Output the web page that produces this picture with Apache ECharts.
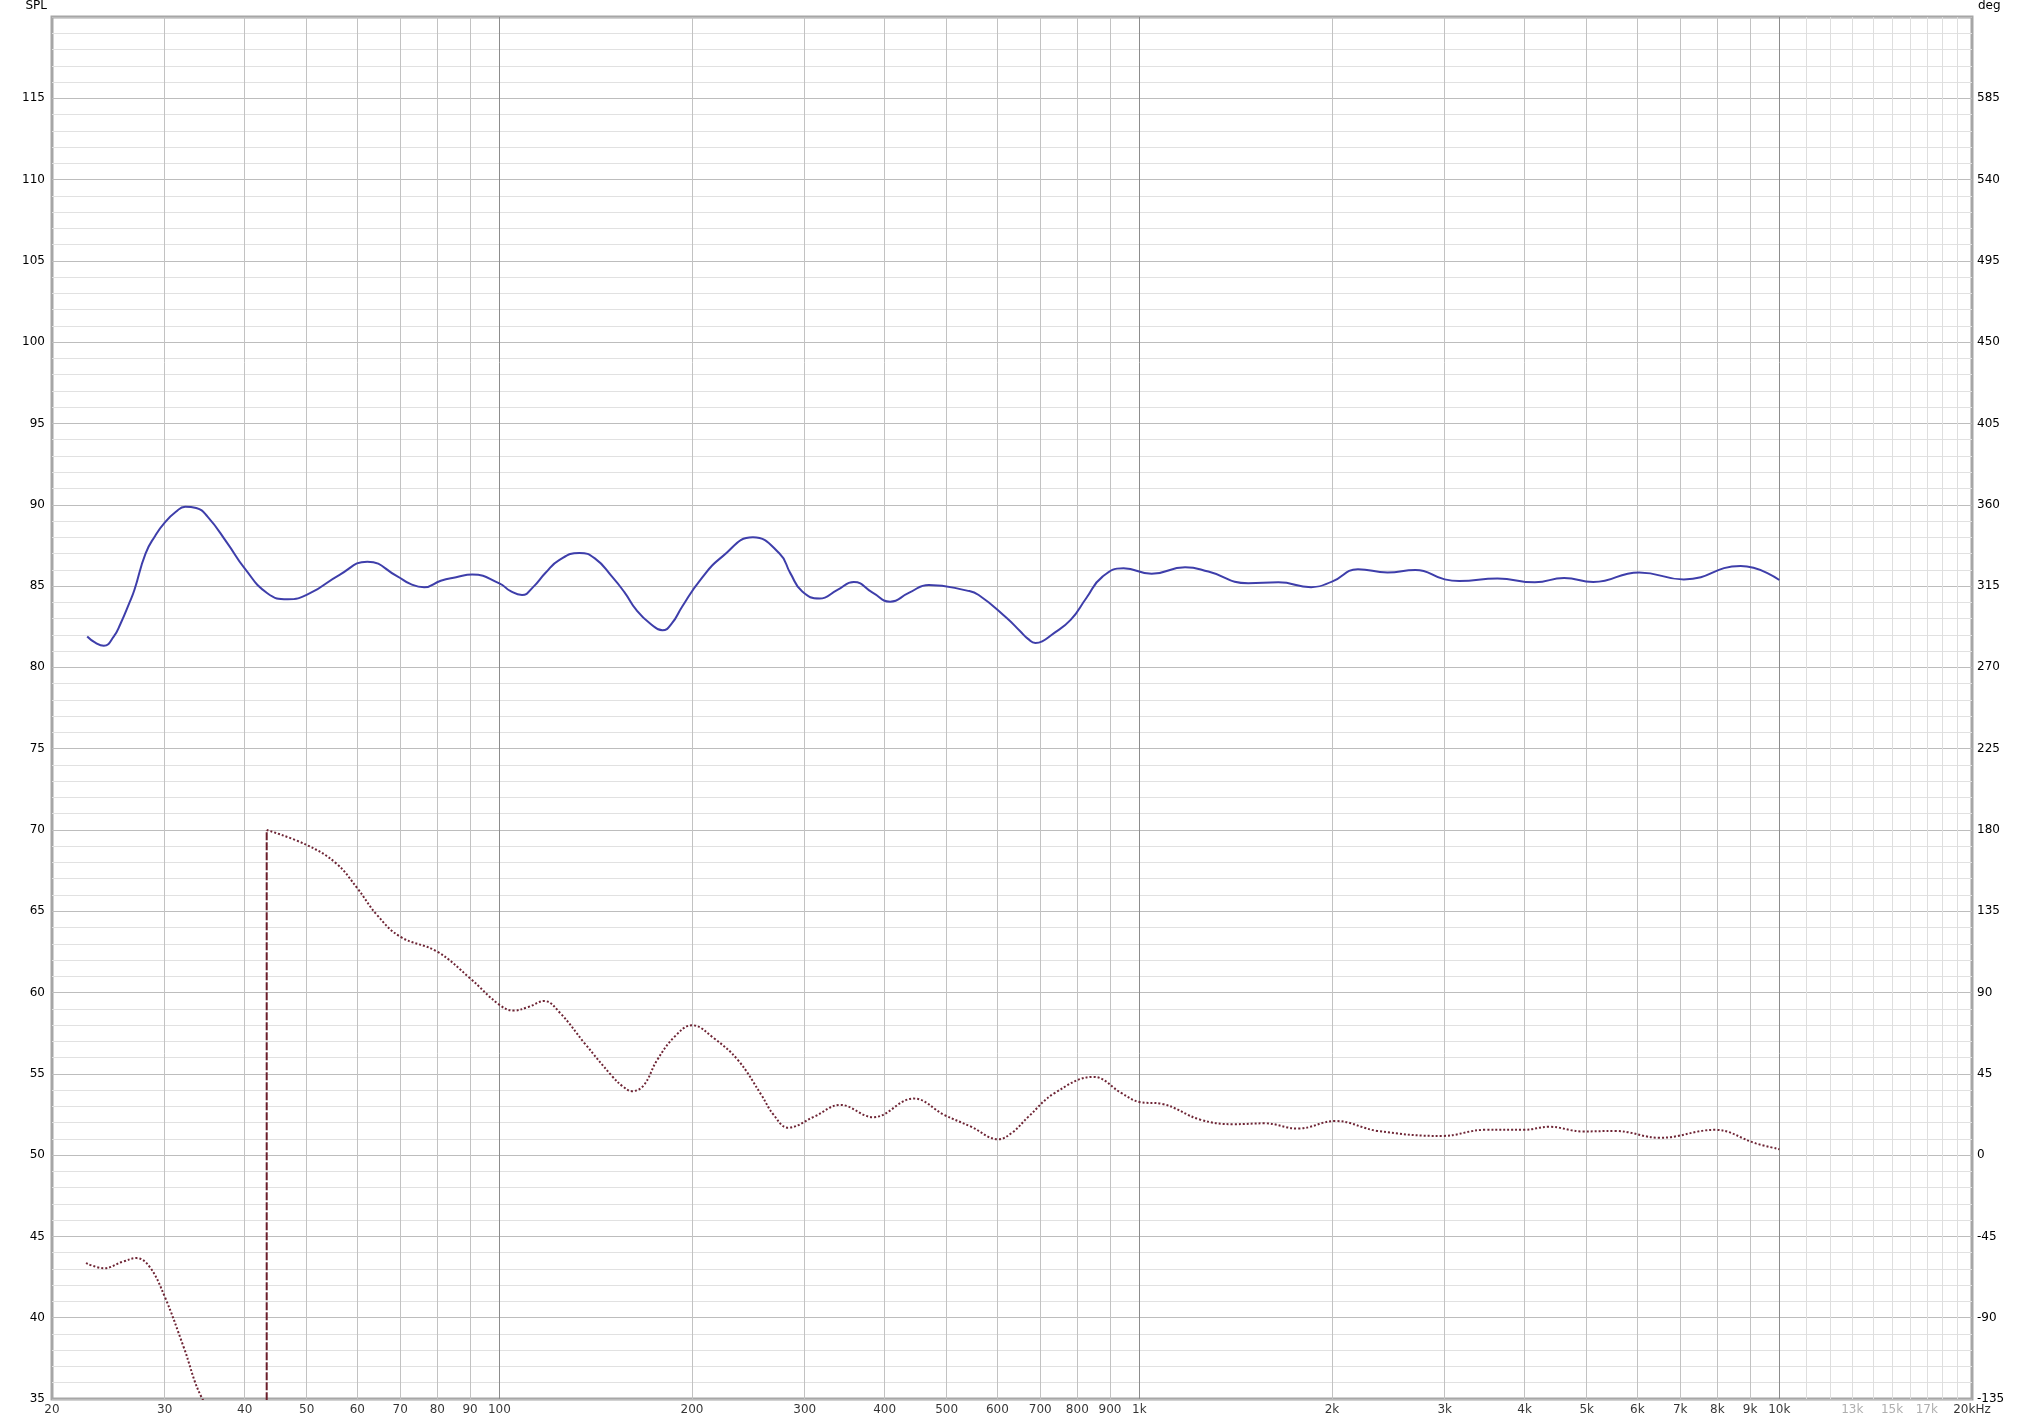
<!DOCTYPE html>
<html><head><meta charset="utf-8">
<script src="https://cdn.jsdelivr.net/npm/echarts@6/dist/echarts.min.js"></script>
<style>html,body{margin:0;padding:0;background:#fff}#c{width:2038px;height:1422px}</style>
</head><body><div id="c"></div>
<script>
// ---- data ----
const splFreq = [22.7, 23.37, 24.1, 24.97, 25.6, 26.4, 26.9, 28.0, 29.0, 30, 31.2, 32.3, 33.6, 35.0, 37.6, 40, 43.4, 46.7, 50.6, 56.2, 62.2, 69.4, 72.6, 76.3, 81.0, 85.6, 90.7, 100, 104, 108.5, 113, 118, 124, 133.4, 141, 150, 157, 163.7, 172, 179.8, 186, 193, 206, 223, 249, 274, 285, 297.4, 316.6, 337, 358, 383, 408, 437, 469, 538, 561, 620, 652, 670, 688, 705, 729, 781, 826, 876, 945, 1045, 1179, 1282, 1480, 1649, 1855, 2000, 2196, 2442, 2700, 3000, 3162, 3627, 4150, 4610, 5120, 6040, 7090, 8700, 10000];
const splDb = [81.9, 81.52, 81.33, 81.89, 82.7, 83.94, 84.76, 87.0, 88.1, 88.9, 89.55, 89.88, 89.8, 89.27, 87.63, 86.09, 84.56, 84.19, 84.56, 85.68, 86.5, 85.58, 85.13, 84.93, 85.33, 85.54, 85.71, 85.17, 84.7, 84.45, 84.95, 85.8, 86.6, 87.04, 86.7, 85.58, 84.6, 83.53, 82.7, 82.28, 82.7, 83.73, 85.37, 86.81, 88.0, 87.0, 85.78, 84.66, 84.23, 84.75, 85.25, 84.6, 84.04, 84.6, 85.07, 84.72, 84.45, 83.05, 82.2, 81.75, 81.5, 81.6, 81.99, 82.92, 84.25, 85.58, 86.09, 85.76, 86.16, 85.89, 85.17, 85.23, 84.93, 85.27, 86.03, 85.84, 85.99, 85.41, 85.31, 85.46, 85.23, 85.5, 85.25, 85.84, 85.41, 86.23, 85.37];

const phaseLowFreq = [22.6, 24.1, 25.8, 27.1, 28.4, 30, 32.1, 34.3, 38.5, 43.3];
const phaseLowDeg = [-59.8, -62.6, -59, -57, -61.7, -78.3, -106, -134.5, -162, -180];

const phaseFreq = [43.3, 50, 55.6, 60, 64.4, 70, 80, 90, 100, 105.3, 111, 117.5, 124.5, 135.9, 150.2, 156, 161, 168, 176.4, 187.9, 200, 216.4, 236, 256.7, 268, 282.6, 310.4, 341, 384, 444, 496, 545.6, 602, 633, 671, 737, 848, 938, 1000, 1084, 1246, 1403, 1569, 1770, 2024, 2356, 2970, 3474, 3990, 4366, 4932, 5530, 6512, 7931, 9190, 10000];
const phaseDeg = [180, 171.7, 161.5, 147.7, 132.9, 120.9, 112.6, 97.9, 83.2, 80, 82, 85.3, 78.6, 61.9, 43.5, 38, 35.4, 38.5, 52.6, 65.6, 71.9, 64.7, 52.6, 33.3, 22.5, 15.2, 21.3, 27.8, 21, 31.3, 22.2, 15.8, 8.8, 12.5, 21.3, 34.3, 43.3, 34.3, 29.4, 28.4, 19.6, 17.1, 17.6, 14.7, 18.9, 13.4, 10.6, 14, 14, 15.7, 13.1, 13.4, 9.6, 14, 6.5, 3.3];

const wrapFreq = 43.3;
const wrapDeg = [-180, 180];

const gridFreqs = [30, 40, 50, 60, 70, 80, 90, 200, 300, 400, 500, 600, 700, 800, 900, 2000, 3000, 4000, 5000, 6000, 7000, 8000, 9000];
const decadeFreqs = [100, 1000, 10000];
const highFreqs = [11000, 12000, 13000, 14000, 15000, 16000, 17000, 18000, 19000];

const xTickFreqs = [20, 30, 40, 50, 60, 70, 80, 90, 100, 200, 300, 400, 500, 600, 700, 800, 900, 1000, 2000, 3000, 4000, 5000, 6000, 7000, 8000, 9000, 10000, 13000, 15000, 17000, 20000];
const xTickLabels = ['20', '30', '40', '50', '60', '70', '80', '90', '100', '200', '300', '400', '500', '600', '700', '800', '900', '1k', '2k', '3k', '4k', '5k', '6k', '7k', '8k', '9k', '10k', '13k', '15k', '17k', '20kHz'];
const greyTickLabels = ['13k', '15k', '17k'];

// ---- chart ----
const FONT = 'DejaVu Sans';
const zip = (a, b) => a.map((v, i) => [v, b[i]]);

const vLines = []
  .concat(gridFreqs.map(f => ({ xAxis: f, lineStyle: { color: '#c2c2c2', width: 1, type: 'solid' } })))
  .concat(decadeFreqs.map(f => ({ xAxis: f, lineStyle: { color: '#8c8c8c', width: 1, type: 'solid' } })))
  .concat(highFreqs.map(f => ({ xAxis: f, lineStyle: { color: '#dedede', width: 1, type: 'solid' } })));

const xLabelData = xTickFreqs.map((f, i) => ({
  value: [f, 35],
  label: { color: greyTickLabels.includes(xTickLabels[i]) ? '#9a9a9a' : '#000' }
}));

const chart = echarts.init(document.getElementById('c'), null, { renderer: 'canvas' });
chart.setOption({
  animation: false,
  backgroundColor: '#ffffff',
  grid: { left: 52, right: 66, top: 17, bottom: 23, show: true, borderColor: '#a6a6a6', borderWidth: 3, backgroundColor: 'transparent' },
  xAxis: {
    type: 'log', logBase: 10, min: 20, max: 20000,
    axisLine: { show: false }, axisTick: { show: false }, axisLabel: { show: false }, splitLine: { show: false }
  },
  yAxis: [
    {
      type: 'value', min: 35, max: 120, interval: 5, position: 'left',
      name: 'SPL', nameLocation: 'end', nameGap: 5,
      nameTextStyle: { color: '#000', fontFamily: FONT, fontSize: 12, align: 'right', padding: [0, 5, 0, 0] },
      axisLine: { show: false }, axisTick: { show: false },
      axisLabel: { color: '#000', fontFamily: FONT, fontSize: 12, margin: 7, formatter: v => (v === 120 ? '' : String(v)) },
      splitLine: { show: true, lineStyle: { color: '#bdbdbd', width: 1 } },
      minorTick: { show: false, splitNumber: 5 },
      minorSplitLine: { show: true, lineStyle: { color: '#e1e1e1', width: 1 } }
    },
    {
      type: 'value', min: -135, max: 630, interval: 45, position: 'right',
      name: 'deg', nameLocation: 'end', nameGap: 5,
      nameTextStyle: { color: '#000', fontFamily: FONT, fontSize: 12, align: 'left', padding: [0, 0, 0, 6] },
      axisLine: { show: false }, axisTick: { show: false },
      axisLabel: { color: '#000', fontFamily: FONT, fontSize: 12, margin: 5, formatter: v => (v === 630 ? '' : String(v)) },
      splitLine: { show: false }
    }
  ],
  series: [
    {
      name: 'vgrid', type: 'line', data: [], z: 1, silent: true,
      markLine: { silent: true, z: 1, symbol: ['none', 'none'], label: { show: false }, emphasis: { disabled: true }, animation: false, data: vLines }
    },
    {
      name: 'xlabels', type: 'scatter', data: xLabelData, symbolSize: 0, clip: false, silent: true, z: 2,
      label: {
        show: true, position: 'bottom', distance: 5, fontFamily: FONT, fontSize: 12,
        formatter: p => xTickLabels[p.dataIndex]
      }
    },
    {
      name: 'SPL', type: 'line', data: zip(splFreq, splDb), yAxisIndex: 0, smooth: 0.5,
      showSymbol: false, z: 4, lineStyle: { color: '#3e3eaa', width: 2 }
    },
    {
      name: 'phaseLow', type: 'line', data: zip(phaseLowFreq, phaseLowDeg), yAxisIndex: 1, smooth: 0.4,
      showSymbol: false, z: 3, clip: true, lineStyle: { color: '#6e2535', width: 2, type: [2, 2] }
    },
    {
      name: 'phase', type: 'line', data: zip(phaseFreq, phaseDeg), yAxisIndex: 1, smooth: 0.4,
      showSymbol: false, z: 3, clip: true, lineStyle: { color: '#6e2535', width: 2, type: [2, 2] }
    },
    {
      name: 'wrap', type: 'line', data: wrapDeg.map(d => [wrapFreq, d]), yAxisIndex: 1,
      showSymbol: false, z: 3, clip: true, lineStyle: { color: '#6b1f2b', width: 2, type: [8, 2] }
    }
  ]
});
</script></body></html>
